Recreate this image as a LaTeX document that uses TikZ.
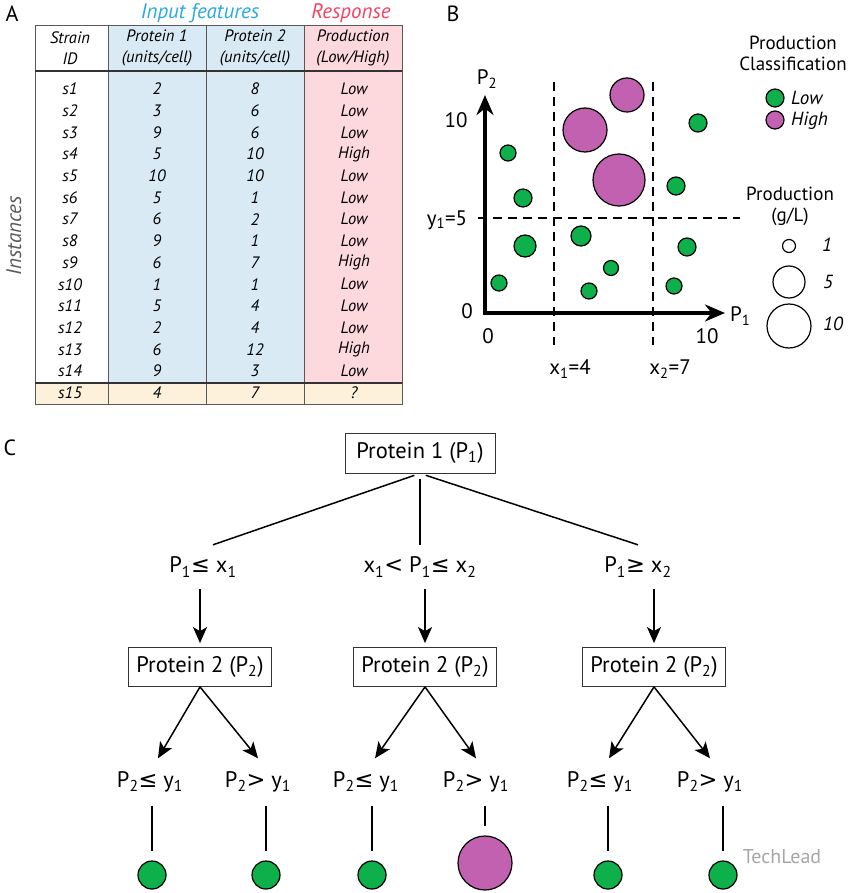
\documentclass[tikz,border=0pt]{standalone}
\usepackage{fontspec}
\setmainfont{PT Sans}
\newfontfamily\symfont{DejaVu Sans}
\usetikzlibrary{arrows.meta}

\definecolor{lowgreen}{HTML}{0DB04B}
\definecolor{highpink}{HTML}{C261B0}
\definecolor{featblue}{HTML}{DAEAF4}
\definecolor{resppink}{HTML}{FDD9DE}
\definecolor{newcream}{HTML}{FEF1DC}
\definecolor{featcyan}{HTML}{29A9E0}
\definecolor{respred}{HTML}{F8415E}
\newcommand{\setfs}[2]{\fontsize{#1}{#2}\selectfont}

\begin{document}
\begin{tikzpicture}[x=1pt,y=-1pt]

\tikzset{cell/.style = {font=\setfs{16.5}{21}\itshape, inner sep=0pt, align=center}}
\tikzset{grid/.style = {draw=black!65, line width=0.8pt}}
\tikzset{lbl/.style = {font=\setfs{21}{21}, inner sep=0pt}}
\tikzset{leg/.style = {font=\setfs{19}{21}, inner sep=0pt, align=center}}
\tikzset{box/.style = {shape=rectangle, draw=black!80, line width=0.8pt, minimum width=143pt, minimum height=39pt, font=\setfs{22.5}{22}}}
\tikzset{cond/.style = {font=\setfs{22.5}{22}, inner sep=0pt}}
\tikzset{edge/.style = {-{Stealth[length=16pt,width=14pt,inset=4pt]}, line width=1.5pt}}
\tikzset{dashline/.style = {dash pattern=on 9pt off 6pt, line width=1.4pt}}
\tikzset{low/.style = {fill=lowgreen, draw=black, line width=1.2pt}}
\tikzset{high/.style = {fill=highpink, draw=black, line width=1.2pt}}
\tikzset{size/.style = {draw=black, line width=1.2pt}}

\useasboundingbox (0,0) rectangle (850,893);

%panel A: table
\fill[featblue] (108,25) rectangle (304,383);
\fill[resppink] (304,25) rectangle (402,383);
\fill[newcream] (35,383) rectangle (402,404);
\draw[grid] (35,25) rectangle (402,404);
\foreach \x in {108,206,304} \draw[grid] (\x,25) -- (\x,404);
\draw[grid, draw=black!80, line width=1.2pt] (35,71) -- (402,71);
\draw[grid, draw=black!80, line width=1.2pt] (35,383) -- (402,383);

\node[font=\setfs{22}{22}] (A) at (12,14) {A};
\node[font=\setfs{21}{21}\itshape, text=featcyan] (feat) at (200,13) {Input features};
\node[font=\setfs{21}{21}\itshape, text=respred] (resp) at (351,13) {Response};
\node[font=\setfs{21}{21}\itshape, text=black!65, rotate=90] (inst) at (14,236) {Instances};

\node[cell] (hid) at (70,48) {Strain\\ID};
\node[cell] (hp1) at (157,48) {Protein 1\\(units/cell)};
\node[cell] (hp2) at (255,48) {Protein 2\\(units/cell)};
\node[cell] (hres) at (353,48) {Production\\(Low/High)};

\foreach \id/\pa/\pb/\res [count=\i] in {s1/2/8/Low, s2/3/6/Low, s3/9/6/Low, s4/5/10/High,
  s5/10/10/Low, s6/5/1/Low, s7/6/2/Low, s8/9/1/Low, s9/6/7/High, s10/1/1/Low,
  s11/5/4/Low, s12/2/4/Low, s13/6/12/High, s14/9/3/Low, s15/4/7/?} {
  \node[cell] (id\i) at (70,{89+21.7*(\i-1)}) {\id};
  \node[cell] (pa\i) at (157,{89+21.7*(\i-1)}) {\pa};
  \node[cell] (pb\i) at (255,{89+21.7*(\i-1)}) {\pb};
  \node[cell] (res\i) at (354,{89+21.7*(\i-1)}) {\res};
}

%panel B: scatter
\node[font=\setfs{22}{22}] (B) at (453,14) {B};
\draw[dashline] (554,82) -- (554,345);
\draw[dashline] (653,82) -- (653,345);
\draw[dashline] (478,218) -- (740,218);
\draw[line width=3.6pt, {Stealth[length=20pt,width=17pt]}-{Stealth[length=20pt,width=17pt]}] (485,95) -- (485,313) -- (725,313);

\foreach \x/\y/\r in {627/95/17, 585/130/22, 619/180/26}
  \draw[high] (\x,\y) circle[radius=\r pt];
\foreach \x/\y/\r in {698/123/9, 508/153/8, 523/198/9, 676/186/9, 525/246/11, 581/236/10,
  687/247/9, 611/268/7.5, 499/283/8, 589/291/8, 674/286/8}
  \draw[low] (\x,\y) circle[radius=\r pt];

\node[lbl] (p2) at (487,79) {P\textsubscript{2}};
\node[lbl, anchor=west] (p1) at (730,316) {P\textsubscript{1}};
\node[lbl] (x0) at (488,336) {0};
\node[lbl] (x10) at (707,336) {10};
\node[lbl] (y0) at (467,311) {0};
\node[lbl] (y10) at (456,120) {10};
\node[lbl] (y1) at (447,220) {y\textsubscript{1}=5};
\node[lbl] (x1) at (570,369) {x\textsubscript{1}=4};
\node[lbl] (x2) at (670,369) {x\textsubscript{2}=7};

%legend
\node[leg] (cls) at (793,53) {Production\\Classification};
\draw[low] (775,98) circle[radius=9pt];
\draw[high] (775,120) circle[radius=9pt];
\node[leg, anchor=west, font=\setfs{19}{21}\itshape] (lowtxt) at (791,98) {Low};
\node[leg, anchor=west, font=\setfs{19}{21}\itshape] (hightxt) at (791,121) {High};
\node[leg] (gl) at (790,206) {Production\\(g/L)};
\draw[size] (789,246) circle[radius=6.5pt];
\draw[size] (789,282) circle[radius=16pt];
\draw[size] (789,326) circle[radius=22pt];
\node[leg, font=\setfs{19}{21}\itshape] (s1) at (827,245) {1};
\node[leg, font=\setfs{19}{21}\itshape] (s5) at (828,282) {5};
\node[leg, font=\setfs{19}{21}\itshape] (s10) at (833,324) {10};

%panel C: tree
\node[font=\setfs{22}{22}] (C) at (10,448) {C};
\node[box, minimum width=150pt, minimum height=40pt] (root) at (420,453) {Protein 1 (P\textsubscript{1})};

\node[cond, minimum height=44pt] (c1) at (203,567) {P\textsubscript{1}{\symfont ≤} x\textsubscript{1}};
\node[cond, minimum height=44pt] (c2) at (420,567) {x\textsubscript{1}{\symfont <} P\textsubscript{1}{\symfont ≤} x\textsubscript{2}};
\node[cond, minimum height=44pt] (c3) at (638,567) {P\textsubscript{1}{\symfont ≥} x\textsubscript{2}};

\draw[line width=1.5pt, shorten <=6pt] (root.south) -- ([xshift=10pt]c1.north);
\draw[line width=1.5pt, shorten <=6pt] (root.south) -- (c2.north);
\draw[line width=1.5pt, shorten <=6pt] (root.south) -- (c3.north);

\node[box] (b1) at (200,667) {Protein 2 (P\textsubscript{2})};
\node[box] (b2) at (425,667) {Protein 2 (P\textsubscript{2})};
\node[box] (b3) at (654,667) {Protein 2 (P\textsubscript{2})};

\draw[edge, shorten >=4pt] (c1.south -| b1) -- (b1.north);
\draw[edge, shorten >=4pt] (c2.south -| b2) -- (b2.north);
\draw[edge, shorten >=4pt] (c3.south -| b3) -- (b3.north);

\node[cond, minimum height=47pt] (d1) at (150,782) {P\textsubscript{2}{\symfont ≤} y\textsubscript{1}};
\node[cond, minimum height=47pt] (d2) at (258,782) {P\textsubscript{2}{\symfont >} y\textsubscript{1}};
\node[cond, minimum height=47pt] (d3) at (366,782) {P\textsubscript{2}{\symfont ≤} y\textsubscript{1}};
\node[cond, minimum height=47pt] (d4) at (476,782) {P\textsubscript{2}{\symfont >} y\textsubscript{1}};
\node[cond, minimum height=47pt] (d5) at (600,782) {P\textsubscript{2}{\symfont ≤} y\textsubscript{1}};
\node[cond, minimum height=47pt] (d6) at (710,782) {P\textsubscript{2}{\symfont >} y\textsubscript{1}};

\draw[edge] (b1.south) -- ([xshift=8pt]d1.north);
\draw[edge] (b1.south) -- (d2.north);
\draw[edge] (b2.south) -- ([xshift=9pt]d3.north);
\draw[edge] (b2.south) -- (d4.north);
\draw[edge] (b3.south) -- ([xshift=9pt]d5.north);
\draw[edge] (b3.south) -- (d6.north);

\node[low, circle, minimum size=28pt, inner sep=0pt] (e1) at (152,875) {};
\node[low, circle, minimum size=28pt, inner sep=0pt] (e2) at (266,875) {};
\node[low, circle, minimum size=28pt, inner sep=0pt] (e3) at (372,875) {};
\node[high, circle, minimum size=54pt, inner sep=0pt] (e4) at (485,863) {};
\node[low, circle, minimum size=28pt, inner sep=0pt] (e5) at (608,875) {};
\node[low, circle, minimum size=28pt, inner sep=0pt] (e6) at (723,875) {};

\foreach \n in {1,...,6}
  \draw[line width=1.3pt, shorten >=9pt] (d\n.south -| e\n) -- (e\n.north);

\node[font=\setfs{20}{20}, text=black!35] (mark) at (782,857) {TechLead};

\end{tikzpicture}
\end{document}
